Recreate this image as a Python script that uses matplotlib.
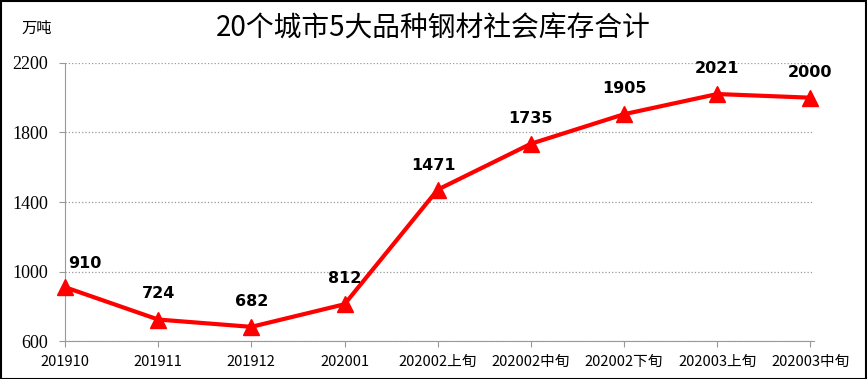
import matplotlib.pyplot as plt
from matplotlib.patches import Rectangle

plt.rcParams['font.family'] = ['Noto Sans CJK SC', 'DejaVu Sans']

categories = ['201910', '201911', '201912', '202001', '202002上旬',
              '202002中旬', '202002下旬', '202003上旬', '202003中旬']
stock = [910, 724, 682, 812, 1471, 1735, 1905, 2021, 2000]
yticks = [600, 1000, 1400, 1800, 2200]

fig = plt.figure(figsize=(8.67, 3.79), dpi=100)
ax = fig.add_axes([0.075, 0.10, 0.864, 0.734])

x = list(range(len(categories)))
ax.plot(x, stock, color='#ff0000', linewidth=3, marker='^', markersize=11,
        markerfacecolor='#ff0000', markeredgecolor='#ff0000', clip_on=False, zorder=3)

# data labels
offsets = {0: (14, 12), 4: (-3, 12)}
for i, v in enumerate(stock):
    dx, dy = offsets.get(i, (0, 13))
    ax.annotate(str(v), (i, v), xytext=(dx, dy), textcoords='offset points',
                ha='center', va='bottom', fontsize=11.5, fontweight='bold',
                family=['DejaVu Sans'])

ax.set_xlim(0, len(categories) - 1 + 0.04)
ax.set_ylim(600, 2200)
ax.set_yticks(yticks)
ax.set_yticklabels([str(t) for t in yticks], family=['Liberation Serif'], fontsize=13)
ax.set_xticks(x)
ax.set_xticklabels(categories, fontsize=10.5)
ax.grid(axis='y', linestyle=':', color='#999999', linewidth=0.9)
for s in ['top', 'right']:
    ax.spines[s].set_visible(False)
ax.spines['left'].set_color('#999999')
ax.spines['bottom'].set_color('#999999')
ax.tick_params(axis='both', colors='#999999', labelcolor='black', length=4)
ax.tick_params(axis='x', pad=6)
ax.tick_params(axis='y', pad=8)

fig.text(0.5, 0.925, '20个城市5大品种钢材社会库存合计', ha='center', va='center',
         fontsize=20)
fig.text(0.025, 0.925, '万吨', ha='left', va='center', fontsize=11)

fig.patches.append(Rectangle((0.001, 0.001), 0.998, 0.997, transform=fig.transFigure,
                             fill=False, edgecolor='black', linewidth=1.5))

fig.savefig('out.png', dpi=100)
